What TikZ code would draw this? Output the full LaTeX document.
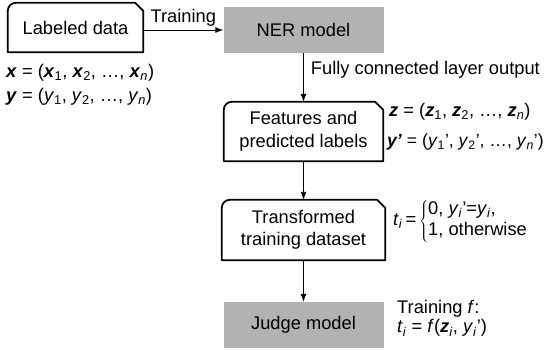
\documentclass[tikz,border=0pt]{standalone}
\usepackage{fontspec}
\setmainfont{Liberation Sans}
\usetikzlibrary{arrows.meta}

\newcommand{\fs}{\fontsize{18.3}{22.5}\selectfont}
\newcommand{\bi}[1]{\textbf{\textit{#1}}}
\newcommand{\sub}[1]{\textsubscript{#1}}
\newcommand{\cutbox}[1]{\draw[edge] (#1.south west) -- ([yshift=-8pt]#1.north west)
  arc[start angle=180,end angle=90,radius=8pt] -- ([xshift=-8pt]#1.north east)
  -- ([yshift=-8pt]#1.north east) -- (#1.south east) -- cycle;}

\tikzset{
  box/.style={inner sep=0pt,align=center,font=\fs},
  graybox/.style={box,fill=black!30},
  lbl/.style={inner sep=0pt,anchor=west,font=\fs},
  arr/.style={line width=0.9pt,-{Latex[length=8pt,width=6pt]}},
  edge/.style={line width=1.8pt,line join=round}
}

\begin{document}
\begin{tikzpicture}[x=1pt,y=1pt]
    \useasboundingbox (0,0) rectangle (544,-349);
    \node[box,minimum width=135pt,minimum height=49pt] (lab) at (75.5,-27.5) {Labeled data};
    \node[graybox,minimum width=160pt,minimum height=46pt] (ner) at (303.5,-30) {NER model};
    \node[box,minimum width=159pt,minimum height=59pt] (feat) at (303.5,-131.5) {Features and\\predicted labels};
    \node[box,minimum width=163pt,minimum height=60pt] (trans) at (303.5,-230) {Transformed\\training dataset};
    \node[graybox,minimum width=160pt,minimum height=46pt] (judge) at (303.5,-325) {Judge model};
    \cutbox{lab}
    \cutbox{feat}
    \cutbox{trans}
    \node[lbl] (xs) at (6,-73) {\bi{x} = (\bi{x}\sub{1}, \bi{x}\sub{2}, …, \bi{x}\sub{\textit{n}})};
    \node[lbl] (ys) at (6,-97) {\bi{y} = (\textit{y}\sub{1}, \textit{y}\sub{2}, …, \textit{y}\sub{\textit{n}})};
    \node[lbl] (zs) at (389,-112) {\bi{z} = (\bi{z}\sub{1}, \bi{z}\sub{2}, …, \bi{z}\sub{\textit{n}})};
    \node[lbl,font=\fontsize{17.6}{21}\selectfont] (yp) at (387,-142) {\bi{y'} = (\textit{y}\sub{1}', \textit{y}\sub{2}', …, \textit{y}\sub{\textit{n}}')};
    \node[lbl] (ti) at (393,-221) {\textit{t}\sub{\textit{i}}\,=\,$\left\{\renewcommand{\arraystretch}{0.95}\begin{tabular}{@{}l@{}}0, \textit{y}\sub{\textit{i}}'=\textit{y}\sub{\textit{i}},\\1, otherwise\end{tabular}\right.$};
    \node[lbl] (trf) at (397,-309) {Training \textit{f}:};
    \node[lbl] (fun) at (397,-328) {\textit{t}\sub{\textit{i}} = \textit{f}(\bi{z}\sub{\textit{i}}, \textit{y}\sub{\textit{i}}')};
    \draw[arr] (lab.east |- ner) -- node[above=3pt,inner sep=0pt,font=\fs] {Training} (ner.west);
    \draw[arr] (ner) -- node[pos=0.35,right=7pt,inner sep=0pt,font=\fs] {Fully connected layer output} (feat);
    \draw[arr] (feat) -- (trans);
    \draw[arr] (trans) -- (judge);
    \end{tikzpicture}
\end{document}
